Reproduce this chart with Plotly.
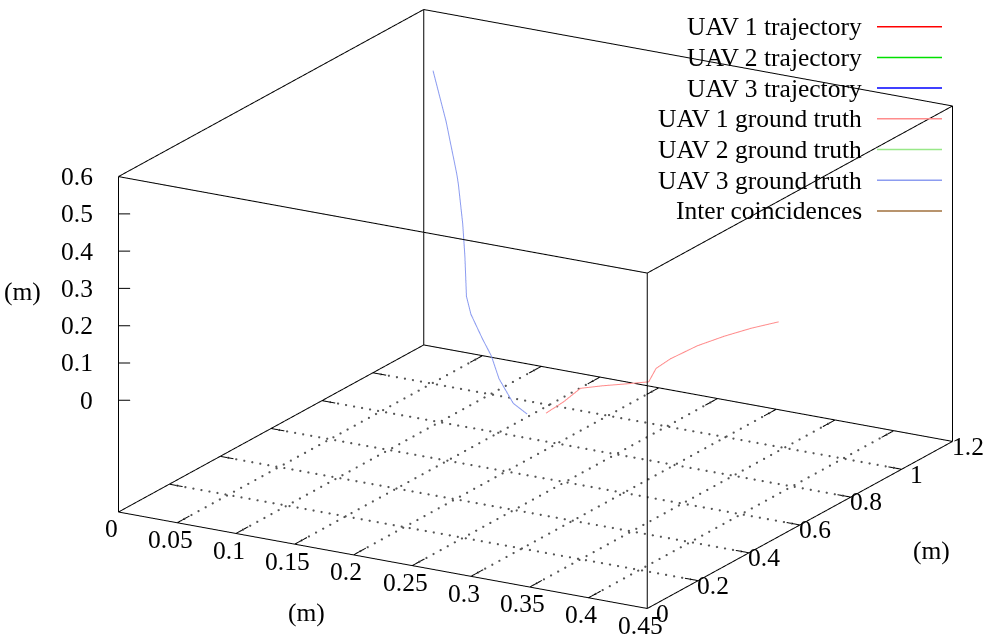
import plotly.graph_objects as go

# ---- data -------------------------------------------------------------
# UAV 1 ground truth (m)
gt1_x = [0.288, 0.286, 0.281, 0.292, 0.305, 0.317, 0.306, 0.304, 0.306, 0.312, 0.320, 0.330]
gt1_y = [0.350, 0.428, 0.518, 0.553, 0.587, 0.620, 0.700, 0.766, 0.862, 0.940, 1.010, 1.071]
gt1_z = [0.0, 0.0, 0.0, 0.0, 0.0, 0.0, 0.0, 0.0, 0.0, 0.0, 0.0, 0.0]

# UAV 3 ground truth (m)
gt3_x = [0.012, 0.058, 0.100, 0.108, 0.131, 0.145, 0.166, 0.177, 0.196, 0.212, 0.231, 0.260, 0.277]
gt3_y = [1.181, 1.020, 0.868, 0.837, 0.748, 0.692, 0.601, 0.568, 0.526, 0.486, 0.429, 0.351, 0.327]
gt3_z = [0.45, 0.40, 0.34, 0.33, 0.27, 0.21, 0.15, 0.12, 0.08, 0.06, 0.03, 0.01, 0.0]

series_names = ["UAV 1 trajectory", "UAV 2 trajectory", "UAV 3 trajectory",
                "UAV 1 ground truth", "UAV 2 ground truth", "UAV 3 ground truth",
                "Inter coincidences"]
series_colors = ["#ff0000", "#00e000", "#0000ff",
                 "#ff8c8c", "#98e888", "#8c9cf0",
                 "#a0703c"]
series_data = {
    "UAV 3 ground truth": (gt3_x, gt3_y, gt3_z),
    "UAV 1 ground truth": (gt1_x, gt1_y, gt1_z),
}

x_ticks = [0, 0.05, 0.1, 0.15, 0.2, 0.25, 0.3, 0.35, 0.4, 0.45]
y_ticks = [0, 0.2, 0.4, 0.6, 0.8, 1, 1.2]
z_ticks = [0, 0.1, 0.2, 0.3, 0.4, 0.5, 0.6]
axis_title = "(m)"

# ---- axis box ---------------------------------------------------------
X0, X1 = x_ticks[0], x_ticks[-1]
Y0, Y1 = y_ticks[0], y_ticks[-1]
Z1 = z_ticks[-1]
ZB = z_ticks[0] - 0.5 * (z_ticks[-1] - z_ticks[0])   # base plane below z=0

FONT = "Liberation Serif"
FS = 25.5
DOTS_ALONG_X = 66   # dots per grid line running along x
DOTS_ALONG_Y = 43   # dots per grid line running along y


def segs(pairs):
    xs, ys, zs = [], [], []
    for (a, b) in pairs:
        xs += [a[0], b[0], None]
        ys += [a[1], b[1], None]
        zs += [a[2], b[2], None]
    return xs, ys, zs


def dots(pairs, n):
    xs, ys, zs = [], [], []
    for (a, b) in pairs:
        for k in range(1, n):
            t = k / n
            xs.append(a[0] + t * (b[0] - a[0]))
            ys.append(a[1] + t * (b[1] - a[1]))
            zs.append(a[2] + t * (b[2] - a[2]))
    return xs, ys, zs


fig = go.Figure()

# dotted grid on the base plane
gx1, gy1, gz1 = dots([((xv, Y0, ZB), (xv, Y1, ZB)) for xv in x_ticks[1:-1]], DOTS_ALONG_Y)
gx2, gy2, gz2 = dots([((X0, yv, ZB), (X1, yv, ZB)) for yv in y_ticks[1:-1]], DOTS_ALONG_X)
fig.add_trace(go.Scatter3d(x=gx1 + gx2, y=gy1 + gy2, z=gz1 + gz2, mode="markers",
                           showlegend=False, hoverinfo="skip",
                           marker=dict(color="#555555", size=1.3, line=dict(width=0))))

# box edges
corners_b = [(X0, Y0, ZB), (X1, Y0, ZB), (X1, Y1, ZB), (X0, Y1, ZB)]
corners_t = [(c[0], c[1], Z1) for c in corners_b]
edges = []
for i in range(4):
    edges.append((corners_b[i], corners_b[(i + 1) % 4]))
    edges.append((corners_t[i], corners_t[(i + 1) % 4]))
    edges.append((corners_b[i], corners_t[i]))
bx, by, bz = segs(edges)
fig.add_trace(go.Scatter3d(x=bx, y=by, z=bz, mode="lines", showlegend=False,
                           hoverinfo="skip",
                           line=dict(color="#000000", width=2)))

# tick marks (mirrored on the opposite edges)
tl_y = 0.04 * (Y1 - Y0)
tl_x = 0.025 * (X1 - X0)
ticks = []
for xv in x_ticks[1:-1]:
    ticks.append(((xv, Y0, ZB), (xv, Y0 + tl_y, ZB)))
    ticks.append(((xv, Y1, ZB), (xv, Y1 - tl_y, ZB)))
for yv in y_ticks[1:-1]:
    ticks.append(((X1, yv, ZB), (X1 - tl_x, yv, ZB)))
    ticks.append(((X0, yv, ZB), (X0 + tl_x, yv, ZB)))
for zv in z_ticks[:-1]:
    ticks.append(((X0, Y0, zv), (X0 + 0.0075, Y0 + 0.0115, zv)))
tx, ty, tz = segs(ticks)
fig.add_trace(go.Scatter3d(x=tx, y=ty, z=tz, mode="lines", showlegend=False,
                           hoverinfo="skip",
                           line=dict(color="#000000", width=2)))

# data series
for name, color in zip(series_names, series_colors):
    sx, sy, sz = series_data.get(name, ([], [], []))
    fig.add_trace(go.Scatter3d(x=sx, y=sy, z=sz, mode="lines", name=name,
                               showlegend=False, hoverinfo="skip",
                               line=dict(color=color, width=2)))

# ---- tick labels / axis titles as scene annotations ------------------
ann = []
for xv in x_ticks:
    ann.append(dict(x=xv, y=Y0, z=ZB, text=f"{xv:g}", showarrow=False,
                    xanchor="center", yanchor="middle", xshift=-7, yshift=-17,
                    font=dict(family=FONT, size=FS, color="black")))
for yv in y_ticks:
    ann.append(dict(x=X1, y=yv, z=ZB, text=f"{yv:g}", showarrow=False,
                    xanchor="center", yanchor="middle", xshift=15, yshift=-5,
                    font=dict(family=FONT, size=FS, color="black")))
for zv in z_ticks:
    ann.append(dict(x=X0, y=Y0, z=zv, text=f"{zv:g}", showarrow=False,
                    xanchor="right", yanchor="middle", xshift=-23, yshift=0,
                    font=dict(family=FONT, size=FS, color="black")))
ann.append(dict(x=(X0 + X1) / 2, y=Y0, z=ZB, text=axis_title, showarrow=False,
                xanchor="center", yanchor="middle", xshift=-76, yshift=-52,
                font=dict(family=FONT, size=FS, color="black")))
ann.append(dict(x=X1, y=(Y0 + Y1) / 2, z=ZB, text=axis_title, showarrow=False,
                xanchor="center", yanchor="middle", xshift=132, yshift=-26,
                font=dict(family=FONT, size=FS, color="black")))
ann.append(dict(x=X0, y=Y0, z=(z_ticks[0] + Z1) / 2, text=axis_title, showarrow=False,
                xanchor="center", yanchor="middle", xshift=-96, yshift=-3,
                font=dict(family=FONT, size=FS, color="black")))

hidden = dict(showgrid=False, showline=False, zeroline=False, showticklabels=False,
              showbackground=False, ticks="", title=dict(text=""), showspikes=False)


def padded(lo, hi, f=1e-3):
    # a hair of slack so marks sitting exactly on the box are not clipped
    d = (hi - lo) * f
    return [lo - d, hi + d]


# in orthographic mode the on-screen size follows the aspect ratio
S = 1.98
K = 4.0
fig.update_layout(
    width=984, height=635,
    margin=dict(l=0, r=0, t=0, b=0),
    paper_bgcolor="white",
    hovermode=False,
    showlegend=False,
    scene=dict(
        domain=dict(x=[0.0882, 1.0], y=[0.027, 1.0]),
        xaxis=dict(range=padded(X0, X1), **hidden),
        yaxis=dict(range=padded(Y0, Y1), **hidden),
        zaxis=dict(range=padded(ZB, Z1), **hidden),
        aspectmode="manual",
        aspectratio=dict(x=S, y=S, z=S * 0.579),
        camera=dict(
            projection=dict(type="orthographic"),
            up=dict(x=0, y=0, z=1),
            center=dict(x=0, y=0, z=0),
            eye=dict(x=K * 0.4744, y=-K * 0.8217, z=K * 0.316),
        ),
        annotations=ann,
        dragmode=False,
    ),
)

# ---- key (text on the left, line sample on the right) ----------------
shapes = []
legend_ann = []
for i, (name, color) in enumerate(zip(series_names, series_colors)):
    yrow = 1 - (26.7 + 30.7 * i) / 635
    shapes.append(dict(type="line", xref="paper", yref="paper",
                       x0=877 / 984, x1=942 / 984, y0=yrow, y1=yrow,
                       line=dict(color=color, width=1.5)))
    legend_ann.append(dict(xref="paper", yref="paper", x=864 / 984, y=yrow,
                           text=name, showarrow=False, xanchor="right",
                           yanchor="middle",
                           font=dict(family=FONT, size=FS, color="black")))
fig.update_layout(shapes=shapes, annotations=legend_ann)

fig.write_html("out.html")
